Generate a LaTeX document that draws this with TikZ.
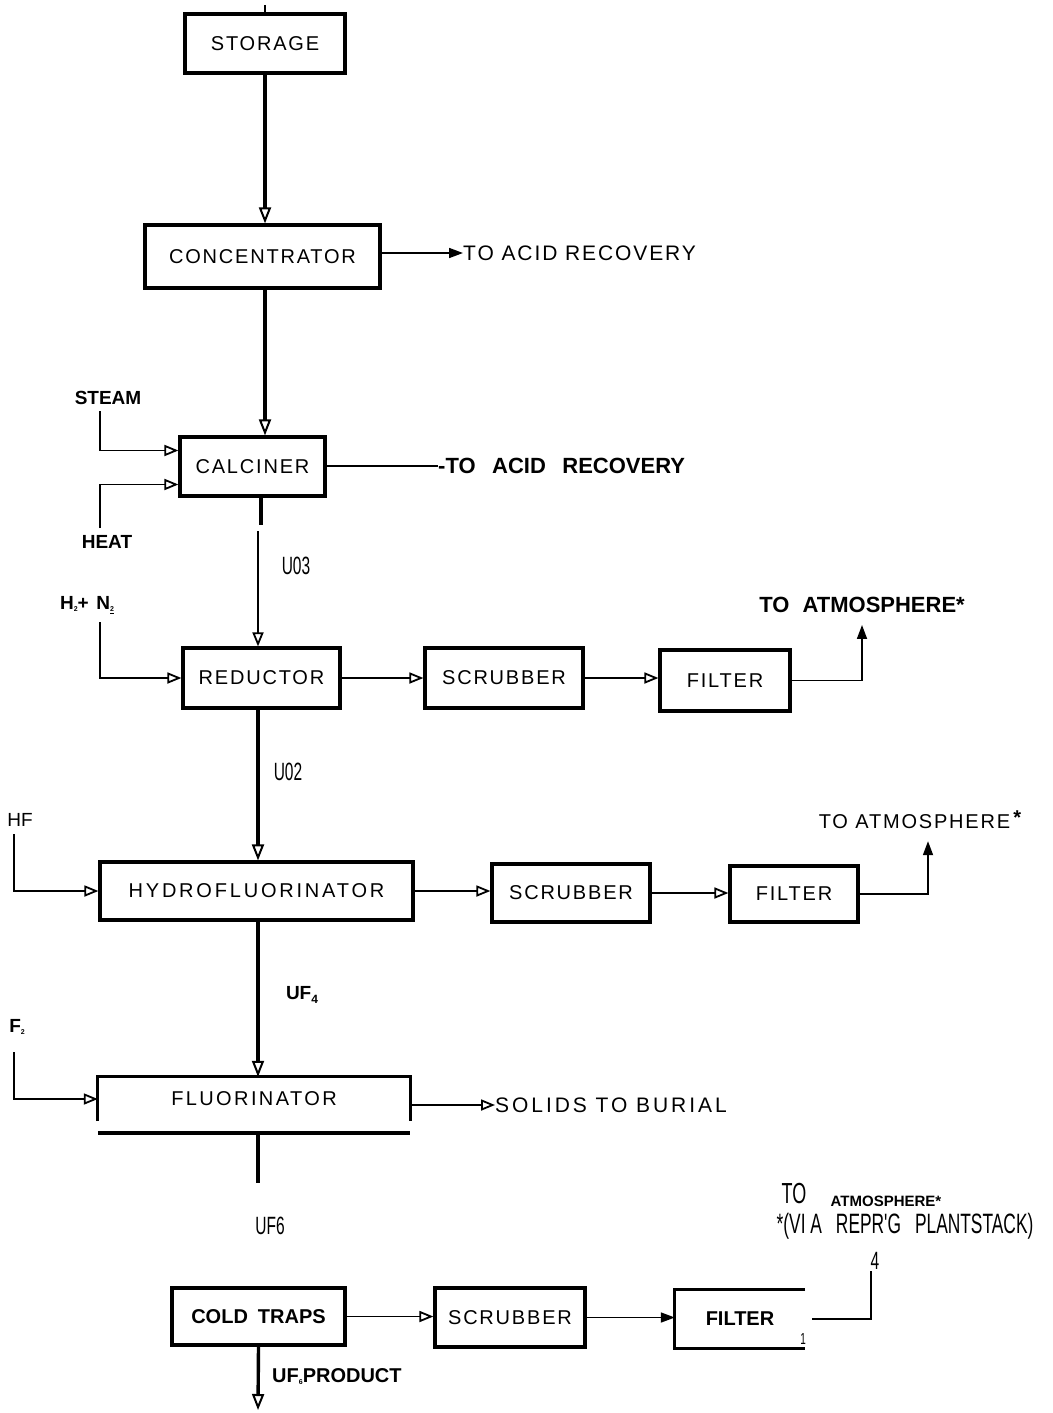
\documentclass[tikz,border=0pt]{standalone}
\usepackage{fontspec}
\usepackage{graphicx}
\setmainfont{Liberation Sans}
\newfontfamily\boxfnt[LetterSpace=9]{Liberation Sans}
\newfontfamily\condfnt[FakeStretch=0.62]{Liberation Sans}
\usetikzlibrary{arrows.meta}
\newcommand{\sbs}[1]{\raisebox{-2pt}{\fontsize{7}{7}\selectfont #1}}
\begin{document}
\begin{tikzpicture}[x=1pt,y=-1pt,
  box/.style={draw, line width=3.2pt, inner sep=0pt, font=\boxfnt\fontsize{20}{22}\selectfont},
  nobox/.style={inner sep=0pt, font=\boxfnt\fontsize{20}{22}\selectfont},
  bline/.style={line width=3.2pt},
  thick line/.style={line width=3.6pt},
  flow/.style={line width=1.7pt, -{Triangle[open, length=14pt, width=11pt, line width=1.8pt]}},
  flowthick/.style={line width=3.4pt, -{Triangle[open, length=16pt, width=12pt, line width=2pt]}},
  flowfill/.style={line width=1.7pt, -{Triangle[length=14pt, width=10pt]}},
  thin line/.style={line width=1.2pt},
  lab/.style={inner sep=0pt, font=\boxfnt\fontsize{20}{22}\selectfont},
  blab/.style={inner sep=0pt, font=\bfseries\fontsize{19}{22}\selectfont},
  clab/.style={inner sep=0pt, font=\condfnt\fontsize{25}{28}\selectfont},
]
\useasboundingbox (0,0) rectangle (1052,1413);

% ---------- boxes ----------
\node[box, minimum width=160, minimum height=59] (storage) at (265,43.5) {STORAGE};
\node[box, minimum width=235, minimum height=63] (conc) at (262.5,256.5) {CONCENTRATOR};
\node[box, minimum width=145, minimum height=59] (calc) at (252.5,466.5) {CALCINER};
\node[box, minimum width=157, minimum height=60] (red) at (261.5,678) {REDUCTOR};
\node[box, minimum width=158, minimum height=60] (scr1) at (504,678) {SCRUBBER};
\node[box, minimum width=130, minimum height=61] (fil1) at (725,680.5) {FILTER};
\node[box, minimum width=313, minimum height=58, font=\boxfnt\fontsize{20}{22}\selectfont\addfontfeature{LetterSpace=14}] (hyd) at (256.5,891) {HYDROFLUORINATOR};
\node[box, minimum width=158, minimum height=58] (scr2) at (571,893) {SCRUBBER};
\node[box, minimum width=128, minimum height=56] (fil2) at (794,894) {FILTER};
\node[nobox, minimum width=312, minimum height=44, font=\boxfnt\fontsize{20}{22}\selectfont\addfontfeature{LetterSpace=12}] (fluor) at (254,1099) {FLUORINATOR};
\draw[bline] (fluor.south west) -- (fluor.north west) -- (fluor.north east) -- (fluor.south east);
\draw[line width=3.8pt] ([yshift=-12pt]fluor.south west) -- ([yshift=-12pt]fluor.south east);
\node[box, minimum width=173, minimum height=57, font=\bfseries\fontsize{20}{22}\selectfont] (cold) at (258.5,1316.5) {COLD\hspace{0.5em}TRAPS};
\node[box, minimum width=150, minimum height=59] (scr3) at (510,1317.5) {SCRUBBER};
\node[nobox, minimum width=130, minimum height=58, font=\bfseries\fontsize{20}{22}\selectfont] (fil3) at (740,1319) {FILTER};
\draw[bline] (fil3.north east) -- (fil3.north west) -- (fil3.south west) -- (fil3.south east);

% ---------- top ----------
\coordinate (top) at (265,5);
\draw[thin line] (top) -- (storage.north);
\draw[flowthick] (storage.south) -- (conc.north -| storage.south);

% concentrator
\node[lab, anchor=west, font=\boxfnt\fontsize{21}{22}\selectfont] (acid1) at (463,253) {TO ACID RECOVERY};
\draw[flowfill] (conc.east |- acid1.west) -- (acid1.west);
\draw[flowthick] (conc.south -| 265,0) -- (calc.north -| 265,0);

% calciner
\node[blab, anchor=west, font=\bfseries\fontsize{22}{24}\selectfont] (acid2) at (438,466) {-TO\hspace{0.75em}ACID\hspace{0.75em}RECOVERY};
\draw[thin line] (calc.east |- acid2.west) -- (acid2.west);
\node[blab] (steam) at (108,398) {STEAM};
\node[blab] (heat) at (107,542) {HEAT};
\coordinate (steam0) at (100,411);
\coordinate (heat0) at (100,528);
\draw[flow] (steam0) |- ([yshift=16pt]calc.west);
\draw[flow] (heat0) |- ([yshift=-18pt]calc.west);
\coordinate (c1) at (261,525);
\draw[thick line] (calc.south -| c1) -- (c1);
\coordinate (c2) at (258,531);
\draw[flow] (c2) -- (red.north -| c2);
\node[clab] (u03) at (296,566) {U03};

% reductor row
\node[blab] (h2n2) at (87,605) {H\sbs{2}+\hspace{0.4em}N\sbs{\underline{2}}};
\coordinate (h0) at (100,622);
\draw[flow] (h0) |- (red.west);
\draw[flow] (red.east) -- (scr1.west);
\draw[flow, line width=2.8pt] (scr1.east) -- (fil1.west |- scr1.east);
\node[blab, font=\bfseries\fontsize{22}{24}\selectfont] (atm1) at (862,605) {TO\hspace{0.6em}ATMOSPHERE*};
\draw[flowfill] (fil1.east) -| ([yshift=-12pt]atm1.south);
\draw[flowthick] (red.south -| 258,0) -- (hyd.north -| 258,0);
\node[clab] (u02) at (288,772) {U02};

% hydrofluorinator row
\node[lab, font=\fontsize{19}{22}\selectfont] (hf) at (20,820) {HF};
\coordinate (hf0) at (14,834);
\draw[flow] (hf0) |- (hyd.west);
\draw[flow] (hyd.east) -- (scr2.west |- hyd.east);
\draw[flow] (scr2.east) -- (fil2.west |- scr2.east);
\node[lab, font=\boxfnt\fontsize{20}{22}\selectfont] (atm2) at (920,820) {TO ATMOSPHERE\,\raisebox{4pt}{\bfseries*}};
\draw[flowfill] (fil2.east) -| ([yshift=-12pt]atm2.south -| 928,0);
\draw[flowthick] (hyd.south -| 258,0) -- (fluor.north -| 258,0);
\node[blab, font=\bfseries\fontsize{19}{22}\selectfont] (uf4) at (302,995) {UF\raisebox{-4pt}{\fontsize{12}{12}\selectfont 4}};

% fluorinator
\node[blab] (f2) at (17,1027) {F\sbs{2}};
\coordinate (f20) at (14,1052);
\draw[flow] (f20) |- (fluor.west);
\node[lab, anchor=west, font=\boxfnt\fontsize{21}{22}\selectfont\addfontfeature{LetterSpace=14}] (solids) at (495,1105) {SOLIDS TO BURIAL};
\draw[flow] (fluor.east |- solids.west) -- (solids.west);
\coordinate (fb) at (258,1183);
\draw[thick line] ([yshift=-12pt]fluor.south -| 258,0) -- (fb);
\node[clab] (uf6) at (270,1226) {UF6};

% bottom row
\node[clab, font=\condfnt\fontsize{29}{30}\selectfont] (to) at (794,1194) {TO};
\node[blab, font=\bfseries\fontsize{15}{16}\selectfont] (atm3) at (886,1201) {ATMOSPHERE*};
\node[clab, font=\condfnt\fontsize{28}{30}\selectfont] (via) at (905,1226) {*(VI A\hspace{0.5em}REPR'G\hspace{0.5em}PLANTSTACK)};
\node[clab] (four) at (875,1261) {4};
\node[clab, font=\condfnt\fontsize{16}{18}\selectfont] (one) at (803,1339) {1};
\coordinate (f3out) at (812,1319);
\draw[thin line] (f3out) -| ([yshift=-1pt]four.south -| 871,0);
\draw[flow] (cold.east) -- (scr3.west |- cold.east);
\draw[flowfill] (scr3.east) -- (fil3.west |- scr3.east);
\coordinate (prod) at (258,1410);
\draw[flowthick] (cold.south) -- (prod);
\node[blab, anchor=west, font=\bfseries\fontsize{20}{22}\selectfont] (uf6p) at (272,1377) {UF\sbs{6}PRODUCT};
\end{tikzpicture}
\end{document}
